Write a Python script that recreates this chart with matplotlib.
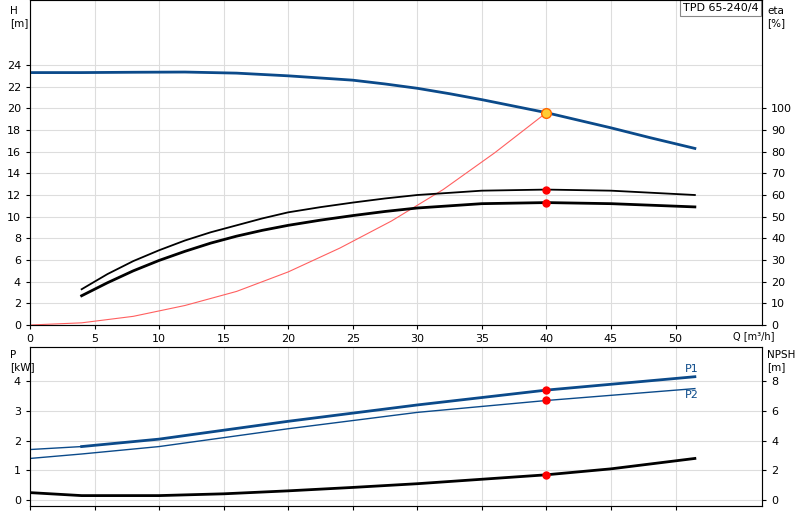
import matplotlib
matplotlib.use("Agg")
import matplotlib.pyplot as plt

q_h = [0, 4, 8, 12, 16, 20, 22.5, 25, 27.5, 30, 32.5, 35, 37.5, 40, 42.5, 45, 48, 51.5]
h = [23.3, 23.3, 23.33, 23.35, 23.25, 23.0, 22.8, 22.6, 22.25, 21.85, 21.35, 20.8, 20.2, 19.6, 18.9, 18.2, 17.3, 16.3]
q_sys = [0, 4, 8, 12, 16, 20, 24, 28, 32, 36, 40]
h_sys = [0, 0.2, 0.8, 1.8, 3.1, 4.9, 7.1, 9.6, 12.5, 15.9, 19.6]
q_eta = [4, 6, 8, 10, 12, 14, 16, 18, 20, 22.5, 25, 27.5, 30, 35, 40, 45, 51.5]
eta1 = [16.5, 23.5, 29.5, 34.5, 39, 42.8, 46, 49.2, 52, 54.4, 56.5, 58.4, 60, 62, 62.5, 62, 60]
eta2 = [13.5, 19.5, 25, 29.8, 34, 37.8, 41, 43.7, 46, 48.4, 50.5, 52.4, 54, 56, 56.5, 56, 54.5]
q_p = [0, 4, 10, 20, 30, 40, 51.5]
p1 = [1.7, 1.8, 2.05, 2.65, 3.2, 3.7, 4.15]
p2 = [1.4, 1.55, 1.8, 2.4, 2.95, 3.35, 3.75]
q_n = [0, 4, 10, 15, 20, 25, 30, 35, 40, 45, 51.5]
npsh = [0.5, 0.3, 0.3, 0.42, 0.62, 0.85, 1.1, 1.4, 1.7, 2.1, 2.8]
q_op = 40

fig = plt.figure(figsize=(8, 5.2), dpi=100)
ax = fig.add_axes([30/800, 1-325/520, 732/800, 325/520])
axb = fig.add_axes([30/800, 1-506/520, 732/800, 159/520])
xmax = 56.7
blue = "#0b4a8a"
for a in (ax, axb):
    a.set_xlim(0, xmax)
    a.tick_params(labelsize=8, length=3, direction="out")
    for s in a.spines.values():
        s.set_color("#888888")
ax.set_ylim(0, 30)
ax.set_yticks(range(0, 25, 2))
ax.set_xticks(range(0, 51, 5))
ax.grid(True, color="#dddddd", lw=0.8)
axb.set_ylim(-0.2, 5.15)
axb.set_yticks(range(0, 5))
axb.set_xticks(range(0, 51, 5))
axb.set_xticklabels([])
axb.grid(True, color="#dddddd", lw=0.8)
ax2 = ax.twinx(); ax2.set_ylim(0, 150); ax2.set_yticks(range(0, 101, 10))
axb2 = axb.twinx(); axb2.set_ylim(-0.4, 10.3); axb2.set_yticks(range(0, 9, 2))
for a in (ax2, axb2):
    a.tick_params(labelsize=8, length=3)

ax.plot(q_h, h, color=blue, lw=2)
ax.plot(q_sys, h_sys, color="#ff6060", lw=0.8)
ax2.plot(q_eta, eta1, color="black", lw=1.3)
ax2.plot(q_eta, eta2, color="black", lw=2)
ax2.plot([q_op, q_op], [eta1[14], eta2[14]], "o", color="red", ms=5, ls="none")
ax.plot([q_op], [h[13]], "o", ms=7, mfc="#ffcc33", mec="#ff6600", mew=1)

axb.plot(q_p[:2], p1[:2], color=blue, lw=1)
axb.plot(q_p[1:], p1[1:], color=blue, lw=2)
axb.plot(q_p, p2, color=blue, lw=1)
axb.plot([q_op, q_op], [p1[5], p2[5]], "o", color="red", ms=5, ls="none")
axb2.plot(q_n, npsh, color="black", lw=2)
axb2.plot([q_op], [npsh[8]], "o", color="red", ms=5)
axb.text(50.7, 4.3, "P1", color=blue, fontsize=8)
axb.text(50.7, 3.45, "P2", color=blue, fontsize=8)

fig.text(10/800, 1-6/520, "H\n[m]", fontsize=7.5, va="top", ha="left")
fig.text(767/800, 1-6/520, "eta\n[%]", fontsize=7.5, va="top", ha="left")
fig.text(10/800, 1-350/520, "P\n[kW]", fontsize=7.5, va="top", ha="left")
fig.text(767/800, 1-350/520, "NPSH\n[m]", fontsize=7.5, va="top", ha="left")
fig.text(733/800, 1-336/520, "Q [m³/h]", fontsize=7, va="center", ha="left")
ax.text(0.995, 0.99, "TPD 65-240/4", transform=ax.transAxes, fontsize=8, ha="right", va="top",
        bbox=dict(fc="white", ec="#888888", lw=0.8, pad=2))
fig.savefig("out.png", dpi=100)
